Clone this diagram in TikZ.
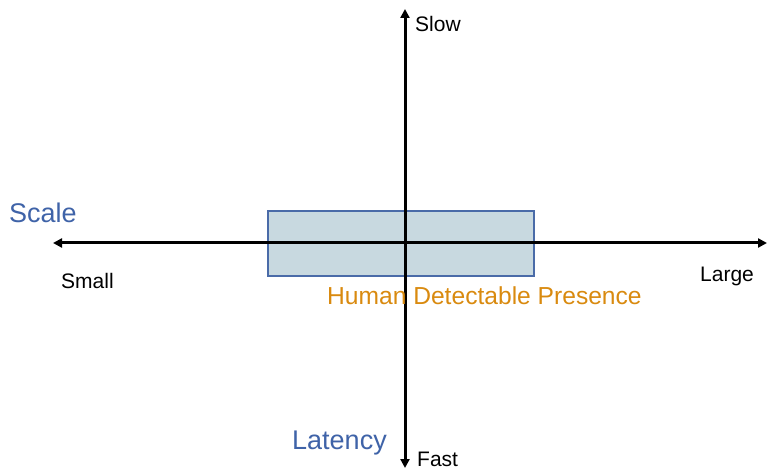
\documentclass[tikz,border=0pt]{standalone}
\usepackage{fontspec}
\setmainfont{Liberation Sans}
\usetikzlibrary{arrows.meta, positioning}

\definecolor{titleblue}{HTML}{3F63A8}
\definecolor{boxline}{HTML}{4A6BA8}
\definecolor{boxfill}{HTML}{C8D9E0}
\definecolor{presence}{HTML}{D98A0F}

\tikzset{
  axis/.style={line width=3pt, {Triangle[length=9pt,width=9pt]}-{Triangle[length=9pt,width=9pt]}},
  endlabel/.style={anchor=base west, inner sep=0pt, font=\fontsize{21}{25}\selectfont},
  axistitle/.style={anchor=base west, inner sep=0pt, text=titleblue, font=\fontsize{27}{32}\selectfont},
  regionbox/.style={draw=boxline, line width=2pt, fill=boxfill, minimum width=266pt, minimum height=65pt, inner sep=0pt}
}

\begin{document}
\begin{tikzpicture}[x=1pt,y=-1pt]
    \useasboundingbox (0,0) rectangle (768,470);

    % Region box
    \node[regionbox] (box) at (401,243.5) {};

    % Axes
    \coordinate (west) at (53,243);
    \coordinate (east) at (767,243);
    \coordinate (north) at (405,9);
    \coordinate (south) at (405,468);
    \draw[axis] (west) -- (east);
    \draw[axis] (south) -- (north);

    % Axis end labels
    \node[endlabel] (slow) at (415,32) {Slow};
    \node[endlabel] (fast) at (417,466) {Fast};
    \node[endlabel] (small) at (61,288) {Small};
    \node[endlabel] (large) at (700,282) {Large};

    % Axis titles
    \node[axistitle] (scale) at (9,223) {Scale};
    \node[axistitle] (latency) at (292,449) {Latency};

    % Region label
    \node[anchor=base west, inner sep=0pt, text=presence, font=\fontsize{24.6}{29}\selectfont] (human) at (327,305) {Human Detectable Presence};
\end{tikzpicture}
\end{document}
